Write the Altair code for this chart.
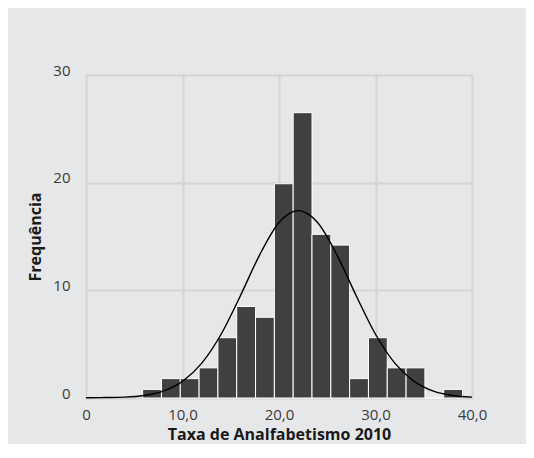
import altair as alt
import pandas as pd

# Histogram bins (edges) and bar heights
bin_start = [5.87, 7.82, 9.77, 11.72, 13.67, 15.62, 17.57, 19.52, 21.47, 23.42,
             25.37, 27.32, 29.27, 31.22, 33.17, 35.12, 37.07]
bin_end = [7.82, 9.77, 11.72, 13.67, 15.62, 17.57, 19.52, 21.47, 23.42, 25.37,
           27.32, 29.27, 31.22, 33.17, 35.12, 37.07, 39.02]
freq = [0.8, 1.8, 1.8, 2.8, 5.6, 8.5, 7.5, 19.9, 26.5, 15.2,
        14.2, 1.8, 5.6, 2.8, 2.8, 0.0, 0.8]

# Fitted normal curve
curve_x = [0, 2, 4, 6, 8, 10, 12, 14, 16, 18, 20, 21, 22, 23, 24, 26, 28, 30,
           32, 34, 36, 38, 40]
curve_y = [0.02, 0.04, 0.08, 0.23, 0.64, 1.55, 3.24, 5.92, 9.5, 13.3, 16.3,
           17.1, 17.4, 17.1, 16.3, 13.3, 9.5, 5.92, 3.24, 1.55, 0.64, 0.23, 0.08]

bars_df = pd.DataFrame({"start": bin_start, "end": bin_end, "freq": freq})
curve_df = pd.DataFrame({"x": curve_x, "y": curve_y})

FONT = "Open Sans"
xscale = alt.Scale(domain=[0, 40], nice=False, zero=False)
yscale = alt.Scale(domain=[0, 30], nice=False)

xaxis = alt.Axis(
    values=[0, 10, 20, 30, 40],
    labelExpr="datum.value == 0 ? '0' : replace(format(datum.value, '.1f'), '.', ',')",
    title="Taxa de Analfabetismo 2010",
    ticks=False, domain=False, grid=True, labelFlush=False,
    gridColor="#d3d4d6", gridWidth=2,
    labelFont=FONT, labelFontSize=15, labelColor="#3a3a3a", labelPadding=9,
    titleFont=FONT, titleFontSize=16, titleFontWeight="bold", titleColor="#1a1a1a",
    titleY=41, titleBaseline="alphabetic",
)
yaxis = alt.Axis(
    values=[0, 10, 20, 30],
    format="d",
    title="Frequência",
    ticks=False, domain=False, grid=True, labelFlush=False,
    gridColor="#d3d4d6", gridWidth=2,
    labelFont=FONT, labelFontSize=15, labelColor="#3a3a3a", labelPadding=16,
    labelBaseline="alphabetic",
    titleFont=FONT, titleFontSize=16, titleFontWeight="bold", titleColor="#1a1a1a",
    titleX=-46, titleBaseline="alphabetic", titleAngle=-90,
)

bars = alt.Chart(bars_df).mark_bar(
    color="#404042", stroke="white", strokeWidth=1
).encode(
    x=alt.X("start:Q", scale=xscale, axis=xaxis),
    x2="end:Q",
    y=alt.Y("freq:Q", scale=yscale, axis=yaxis),
    y2=alt.datum(0),
)

curve = alt.Chart(curve_df).mark_line(
    color="black", strokeWidth=1.4, interpolate="monotone"
).encode(
    x=alt.X("x:Q", scale=xscale),
    y=alt.Y("y:Q", scale=yscale),
)

chart = alt.layer(bars, curve).properties(
    width=386, height=323,
    background="#e6e7e9",
    padding={"left": 78, "top": 67, "right": 54, "bottom": 46},
    autosize=alt.AutoSizeParams(type="none"),
).configure_view(stroke=None)

chart.save("out.html", embed_options={"renderer": "svg", "actions": False})
